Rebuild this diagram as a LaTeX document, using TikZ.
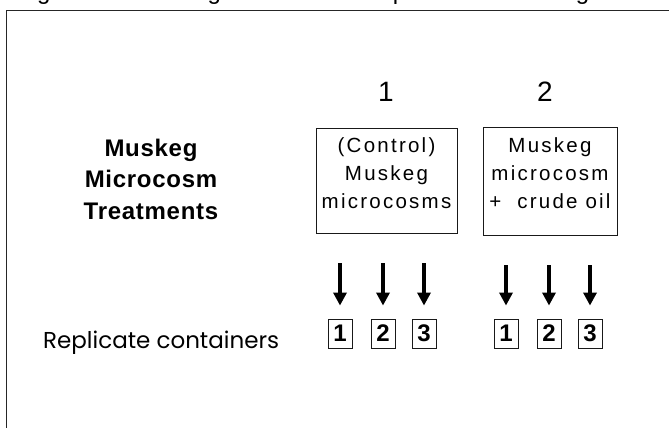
\documentclass[tikz,border=0pt]{standalone}
\usepackage{fontspec}
\setmainfont{Liberation Sans}
\newfontfamily\geofont{Poppins}
\usetikzlibrary{arrows.meta,calc}

\tikzset{
  frameline/.style={draw=black!85, line width=1.1pt},
  treatbox/.style={draw=black!90, line width=0.9pt, minimum width=141pt,
    minimum height=105pt, inner sep=0pt},
  boxtext/.style={font=\fontsize{20.5}{28}\selectfont\addfontfeature{LetterSpace=11},
    align=center, inner sep=0pt, anchor=base},
  sidelabel/.style={font=\fontsize{24}{31.5}\selectfont\bfseries\addfontfeature{LetterSpace=3},
    align=center, inner sep=0pt, anchor=base},
  groupnum/.style={font=\fontsize{28}{30}\selectfont, inner sep=0pt, anchor=base},
  repbox/.style={draw=black!90, line width=0.9pt, minimum width=24pt,
    minimum height=29pt, inner sep=0pt,
    font=\fontsize{24}{24}\selectfont\bfseries},
  downarrow/.style={line width=3.6pt, -{Triangle[length=13pt,width=13pt]}},
  titletext/.style={font=\fontsize{24}{26}\selectfont\addfontfeature{LetterSpace=6},
    inner sep=0pt, anchor=base west},
}

\begin{document}
\begin{tikzpicture}[x=1pt,y=-1pt]
  \useasboundingbox (0,0) rectangle (669,428);
  \fill[white] (0,0) rectangle (669,428);

  % caption running off the top edge
  \node[titletext] (caption) at (14,-0.8) {Figure 3. Muskeg microcosm experimental design};

  % outer frame (only its top and left sides fall on the page)
  \draw[frameline] (6.5,440) |- (690,10.5);

  % row label (base anchor sits on the last line)
  \node[sidelabel] (treat) at (151,219) {Muskeg\\Microcosm\\Treatments};

  % treatment numbers
  \node[groupnum] (n1) at (386,101) {1};
  \node[groupnum] (n2) at (545,101) {2};

  % treatment boxes
  \node[treatbox] (b1) at (386.5,180.5) {};
  \node[treatbox, minimum width=134pt, minimum height=108pt] (b2) at (550,181) {};
  \node[boxtext] (t1) at (386.5,208) {(Control)\\Muskeg\\microcosms};
  \node[boxtext] (t2) at (550,208) {Muskeg\\microcosm\\+\ \ crude oil};

  % replicate label
  \node[font=\geofont\fontsize{23}{25}\selectfont, inner sep=0pt, anchor=base west]
    (rep) at (43,348) {Replicate containers};

  % replicate containers
  \node[repbox] (r11) at (340,333.5) {1};
  \node[repbox] (r12) at (383,333.5) {2};
  \node[repbox] (r13) at (424,333.5) {3};
  \node[repbox] (r21) at (506,333.5) {1};
  \node[repbox] (r22) at (549,333.5) {2};
  \node[repbox] (r23) at (590,333.5) {3};

  % arrows from the treatments down to each container
  \foreach \b/\r in {b1/r11,b1/r12,b1/r13,b2/r21,b2/r22,b2/r23}{
    \draw[downarrow] ([yshift=-30pt]\b.south -| \r.north) -- ([yshift=13pt]\r.north);
  }
\end{tikzpicture}
\end{document}
